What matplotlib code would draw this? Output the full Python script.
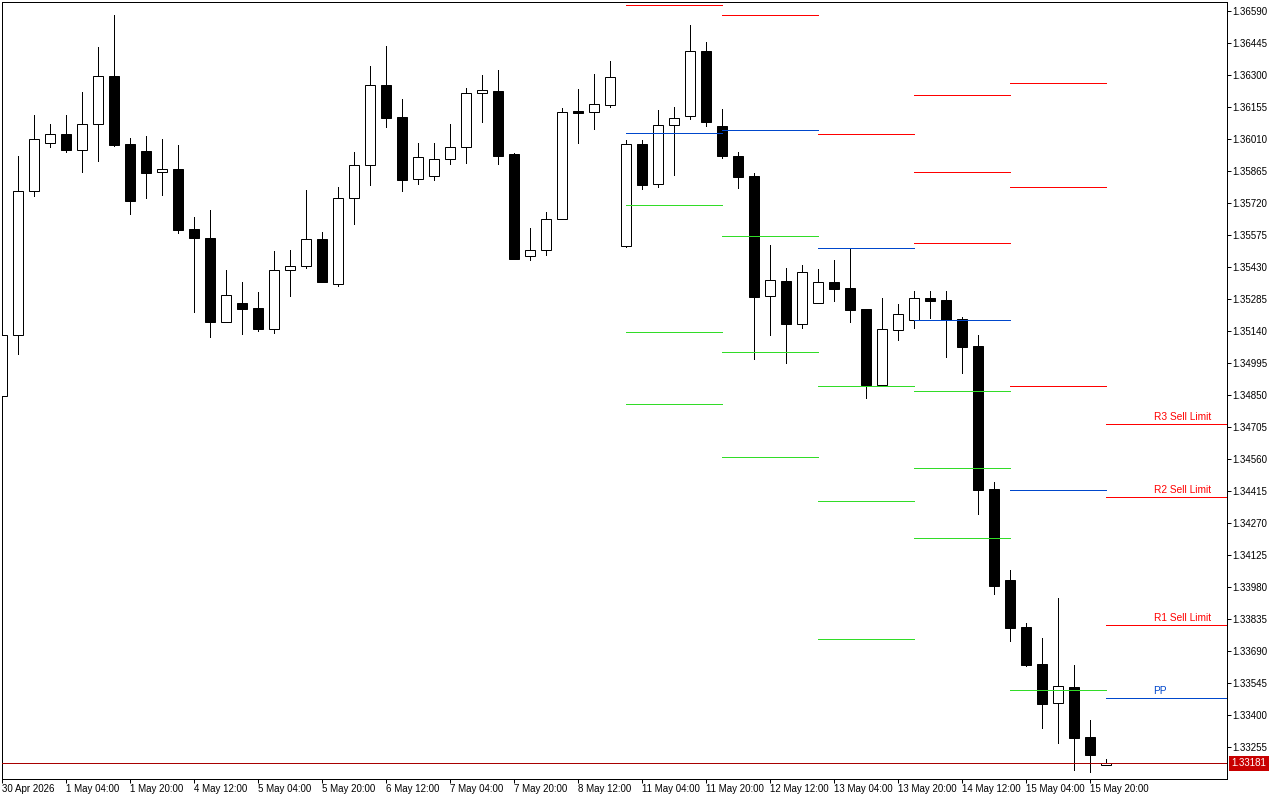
import numpy as np
import matplotlib
matplotlib.use("Agg")
import matplotlib.pyplot as plt

plt.rcParams['font.family'] = ['Liberation Sans', 'DejaVu Sans']

opens = [1.34846,1.35122,1.35774,1.35992,1.36033,1.35960,1.36078,1.36295,1.35987,1.35956,
         1.35860,1.35874,1.35602,1.35561,1.35181,1.35267,1.35244,1.35149,1.35416,1.35434,
         1.35557,1.35353,1.35743,1.35892,1.36255,1.36110,1.35829,1.35842,1.35919,1.35974,
         1.36218,1.36228,1.35942,1.35480,1.35507,1.35648,1.36137,1.36132,1.36164,1.35525,
         1.35987,1.35806,1.36073,1.36114,1.36409,1.36069,1.35933,1.35842,1.35299,1.35367,
         1.35172,1.35267,1.35362,1.35335,1.35240,1.34895,1.35145,1.35190,1.35290,1.35280,
         1.35194,1.35072,1.34424,1.34012,1.33799,1.33631,1.33454,1.33527,1.33300,1.33173]
highs = [1.35122,1.35933,1.36119,1.36078,1.36119,1.36223,1.36427,1.36572,1.36014,1.36024,
         1.36010,1.35983,1.35657,1.35688,1.35416,1.35362,1.35317,1.35503,1.35507,1.35779,
         1.35589,1.35792,1.35951,1.36341,1.36431,1.36191,1.35992,1.35992,1.36078,1.36241,
         1.36300,1.36323,1.35947,1.35607,1.35679,1.36150,1.36237,1.36305,1.36363,1.36005,
         1.36005,1.36141,1.36155,1.36527,1.36450,1.36146,1.35951,1.35856,1.35530,1.35425,
         1.35439,1.35421,1.35462,1.35516,1.35240,1.35290,1.35262,1.35321,1.35321,1.35321,
         1.35203,1.35122,1.34456,1.34057,1.33817,1.33749,1.33930,1.33627,1.33377,1.33201]
lows = [1.34846,1.35036,1.35752,1.35974,1.35951,1.35860,1.35910,1.35978,1.35670,1.35743,
        1.35756,1.35584,1.35226,1.35113,1.35181,1.35126,1.35140,1.35131,1.35299,1.35425,
        1.35362,1.35344,1.35625,1.35802,1.36064,1.35774,1.35806,1.35824,1.35897,1.35901,
        1.36087,1.35897,1.35466,1.35462,1.35484,1.35648,1.35992,1.36055,1.36155,1.35521,
        1.35783,1.35792,1.35847,1.36101,1.36069,1.35924,1.35788,1.35013,1.35122,1.34995,
        1.35154,1.35267,1.35276,1.35181,1.34836,1.34895,1.35099,1.35154,1.35199,1.35022,
        1.34950,1.34311,1.33948,1.33735,1.33622,1.33341,1.33273,1.33151,1.33142,1.33173]
closes = [1.35122,1.35774,1.36010,1.36033,1.35960,1.36078,1.36295,1.35983,1.35729,1.35856,
          1.35874,1.35598,1.35561,1.35181,1.35303,1.35240,1.35149,1.35416,1.35434,1.35557,
          1.35362,1.35743,1.35892,1.36255,1.36105,1.35824,1.35928,1.35919,1.35974,1.36218,
          1.36232,1.35933,1.35466,1.35507,1.35648,1.36132,1.36128,1.36169,1.36291,1.35987,
          1.35802,1.36073,1.36105,1.36409,1.36087,1.35933,1.35838,1.35294,1.35371,1.35172,
          1.35407,1.35362,1.35330,1.35235,1.34895,1.35149,1.35217,1.35290,1.35276,1.35190,
          1.35067,1.34420,1.33985,1.33794,1.33627,1.33450,1.33531,1.33296,1.33219,1.33181]

level_starts = [39, 45, 51, 57, 63, 69]
level_ends = [45, 51, 57, 63, 69, 76.5625]
level_red = [[1.36617], [1.36572], [1.36033], [1.36209,1.35860,1.35539],
             [1.36264,1.35792,1.34891], [1.34719,1.34388,1.33808]]
level_blue = [1.36037, 1.36051, 1.35516, 1.35190, 1.34420, 1.33477]
level_green = [[1.35711,1.35135,1.34809], [1.35570,1.35045,1.34569],
               [1.34891,1.34370,1.33744], [1.34868,1.34519,1.34202], [1.33513], []]

label_texts = ['R3 Sell Limit', 'R2 Sell Limit', 'R1 Sell Limit', 'PP']
label_prices = [1.34719, 1.34388, 1.33808, 1.33477]
label_colors = ['#ff0000', '#ff0000', '#ff0000', '#0047cc']

last_price = 1.33181

price_ticks = ['1.36590','1.36445','1.36300','1.36155','1.36010','1.35865','1.35720','1.35575',
               '1.35430','1.35285','1.35140','1.34995','1.34850','1.34705','1.34560','1.34415',
               '1.34270','1.34125','1.33980','1.33835','1.33690','1.33545','1.33400','1.33255']
time_ticks = ['30 Apr 2026','1 May 04:00','1 May 20:00','4 May 12:00','5 May 04:00','5 May 20:00',
              '6 May 12:00','7 May 04:00','7 May 20:00','8 May 12:00','11 May 04:00','11 May 20:00',
              '12 May 12:00','13 May 04:00','13 May 20:00','14 May 12:00','15 May 04:00','15 May 20:00']

W, H = 1280, 800
PX = 0.72
fig = plt.figure(figsize=(W/100, H/100), dpi=100, facecolor='white')
ax = fig.add_axes([1.5/W, 1-779.1/H, 1225/W, 777/H], facecolor='white')

k = 0.00145/32
ax.set_xlim(0, 1225/16)
ax.set_ylim(1.36590-768*k, 1.36590+9*k)

o, h, l, c = map(np.array, (opens, highs, lows, closes))
x = np.arange(len(o))
up = c >= o
bottoms = np.minimum(o, c)
heights = np.abs(c-o)

ax.vlines(x, l, h, color='black', lw=PX, zorder=2, antialiased=False)
ax.bar(x[up], heights[up], bottom=bottoms[up], width=0.625, facecolor='white',
       edgecolor='black', linewidth=PX, zorder=3)
ax.bar(x[~up], heights[~up], bottom=bottoms[~up], width=0.625, facecolor='black',
       edgecolor='black', linewidth=PX, zorder=3)

for s, e, reds, blue, greens in zip(level_starts, level_ends, level_red, level_blue, level_green):
    ax.hlines(reds, s, e, color='#ff0000', lw=PX, zorder=4, antialiased=False)
    ax.hlines([blue], s, e, color='#0047cc', lw=PX, zorder=4, antialiased=False)
    if greens:
        ax.hlines(greens, s, e, color='#32dc28', lw=PX, zorder=4, antialiased=False)

ax.axhline(last_price, color='#a80000', lw=PX, zorder=4, antialiased=False)

for t, p, col in zip(label_texts, label_prices, label_colors):
    ax.annotate(t, xy=(72, p), xytext=(0, 1.2), textcoords='offset points',
                color=col, fontsize=7.3, ha='left', va='bottom', zorder=5)

for s in ax.spines.values():
    s.set_linewidth(PX)
    s.set_color('black')

ax.yaxis.tick_right()
ax.set_yticks([float(t) for t in price_ticks])
ax.set_yticklabels(price_ticks)
ax.set_xticks(np.arange(len(time_ticks))*4)
ax.set_xticklabels(time_ticks, ha='left')
ax.tick_params(axis='y', length=2.9, width=PX, pad=1.4, labelsize=7.0, colors='black')
ax.tick_params(axis='x', length=2.9, width=PX, pad=0.5, labelsize=7.0, colors='black')

ax.annotate(f'{last_price:.5f}', xy=(1, last_price), xycoords=ax.get_yaxis_transform(),
            xytext=(3.6, 0), textcoords='offset points', color='white', fontsize=7.0,
            ha='left', va='center', annotation_clip=False, zorder=6,
            bbox=dict(boxstyle='square,pad=0.28', fc='#c80000', ec='none'))

fig.savefig('out.png', dpi=100)
